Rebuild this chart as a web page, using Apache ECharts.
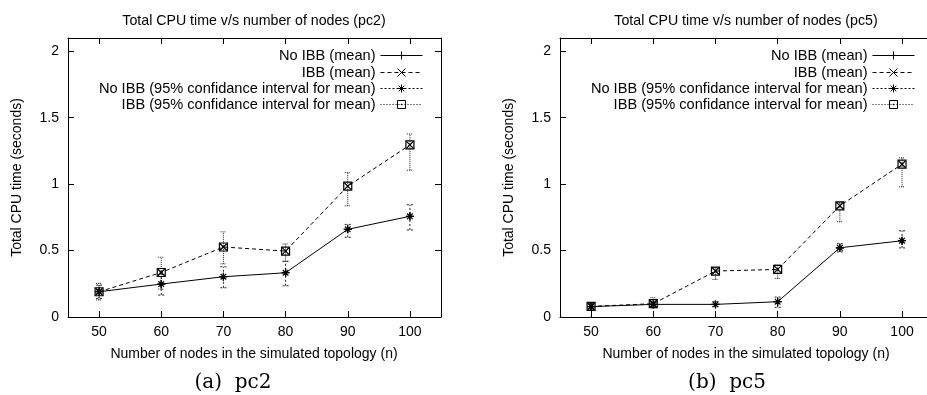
<!DOCTYPE html>
<html>
<head>
<meta charset="utf-8">
<script src="https://cdn.jsdelivr.net/npm/echarts@6/dist/echarts.min.js"></script>
<style>
  html, body { margin: 0; padding: 0; background: #fff; overflow: hidden; }
  #chart { width: 927px; height: 395px; }
</style>
</head>
<body>
<div id="chart"></div>
<script>
// number of nodes (x)
const nodes = [50, 60, 70, 80, 90, 100];
const xTicks = [50, 60, 70, 80, 90, 100];
const yTicks = [0, 0.5, 1, 1.5, 2];

// pc2
const pc2NoIbbMean = [0.19, 0.248, 0.303, 0.333, 0.66, 0.758];
const pc2IbbMean = [0.19, 0.335, 0.527, 0.496, 0.985, 1.295];
const pc2NoIbbLow = [0.14, 0.165, 0.22, 0.235, 0.6, 0.655];
const pc2NoIbbHigh = [0.24, 0.32, 0.378, 0.42, 0.697, 0.845];
const pc2IbbLow = [0.128, 0.21, 0.4, 0.418, 0.837, 1.105];
const pc2IbbHigh = [0.253, 0.45, 0.641, 0.55, 1.087, 1.378];

// pc5
const pc5NoIbbMean = [0.078, 0.095, 0.095, 0.115, 0.521, 0.574];
const pc5IbbMean = [0.08, 0.1, 0.346, 0.358, 0.837, 1.15];
const pc5NoIbbLow = [0.062, 0.078, 0.078, 0.073, 0.49, 0.52];
const pc5NoIbbHigh = [0.1, 0.118, 0.115, 0.15, 0.552, 0.649];
const pc5IbbLow = [0.062, 0.07, 0.283, 0.29, 0.717, 0.98];
const pc5IbbHigh = [0.1, 0.145, 0.37, 0.392, 0.86, 1.198];

const seriesNames = [
  'No IBB (mean)',
  'IBB (mean)',
  'No IBB (95% confidance interval for mean)',
  'IBB (95% confidance interval for mean)',
];

const FONT = '"Liberation Sans", Arial, sans-serif';
const SYM_PLUS = 'path://M0,5L10,5M5,0L5,10';
const SYM_CROSS = 'path://M0,0L10,10M10,0L0,10';
const SYM_STAR = 'path://M0,5L10,5M5,0L5,10M1.5,1.5L8.5,8.5M8.5,1.5L1.5,8.5';
const SYM_BOX = 'path://M0,0L10,0L10,10L0,10ZM4.6,4.6L5.4,4.6L5.4,5.4L4.6,5.4Z';

// the second plot runs past the right edge of the picture, as in the original
// (same x scale, just a longer axis that gets cut off)
const panels = [
  {
    left: 68, width: 373, xMax: 105, rightFrame: true, legendRight: 504, titleX: 254, captionX: 233,
    title: 'Total CPU time v/s number of nodes (pc2)', caption: '(a)  pc2',
    noIbbMean: pc2NoIbbMean, ibbMean: pc2IbbMean,
    noIbbLow: pc2NoIbbLow, noIbbHigh: pc2NoIbbHigh, ibbLow: pc2IbbLow, ibbHigh: pc2IbbHigh,
  },
  {
    left: 560, width: 398, xMax: 109, rightFrame: false, legendRight: 12, titleX: 746, captionX: 727,
    title: 'Total CPU time v/s number of nodes (pc5)', caption: '(b)  pc5',
    noIbbMean: pc5NoIbbMean, ibbMean: pc5IbbMean,
    noIbbLow: pc5NoIbbLow, noIbbHigh: pc5NoIbbHigh, ibbLow: pc5IbbLow, ibbHigh: pc5IbbHigh,
  },
];

const points = ys => nodes.map((n, i) => [n, ys[i]]);
const bars = (lo, hi) => nodes.map((n, i) => [n, lo[i], hi[i]]);

const renderErrorBar = dash => (params, api) => {
  const x = api.value(0);
  const lo = api.coord([x, api.value(1)]);
  const hi = api.coord([x, api.value(2)]);
  const style = { stroke: '#222', lineWidth: 1, lineDash: dash, fill: null };
  const line = (x1, y1, x2, y2) => ({ type: 'line', shape: { x1, y1, x2, y2 }, style });
  return {
    type: 'group',
    children: [
      line(lo[0], lo[1], hi[0], hi[1]),
      line(lo[0] - 3, lo[1], lo[0] + 3, lo[1]),
      line(hi[0] - 3, hi[1], hi[0] + 3, hi[1]),
    ],
  };
};

const axisBase = ticks => ({
  axisLine: { show: true, onZero: false, lineStyle: { color: '#000', width: 1 } },
  axisTick: { show: true, inside: true, length: 6, lineStyle: { color: '#000' }, customValues: ticks },
  splitLine: { show: false },
});

const textStyle = { color: '#000', fontSize: 14, fontFamily: FONT };

const grid = [];
const xAxis = [];
const yAxis = [];
const series = [];
const legend = [];
const graphic = [];

panels.forEach((p, i) => {
  grid.push({
    left: p.left, width: p.width, top: 38, height: 279,
    outerBoundsMode: 'none', containLabel: false, show: false,
  });

  const xIndex = xAxis.length;
  xAxis.push({
    type: 'value', gridIndex: i, min: 45, max: p.xMax, position: 'bottom',
    ...axisBase(xTicks),
    axisLabel: { ...textStyle, margin: 8, customValues: xTicks },
    name: 'Number of nodes in the simulated topology (n)',
    nameLocation: 'start', nameGap: 0, nameTextStyle: textStyle,
  });
  xAxis.push({
    type: 'value', gridIndex: i, min: 45, max: p.xMax, position: 'top',
    ...axisBase(xTicks), axisLabel: { show: false },
  });
  const yIndex = yAxis.length;
  yAxis.push({
    type: 'value', gridIndex: i, min: 0, max: 2.1, position: 'left',
    ...axisBase(yTicks),
    axisLabel: { ...textStyle, margin: 9, customValues: yTicks },
    name: 'Total CPU time (seconds)',
    nameLocation: 'middle', nameGap: 44, nameTextStyle: textStyle,
  });
  if (p.rightFrame) {
    yAxis.push({
      type: 'value', gridIndex: i, min: 0, max: 2.1, position: 'right',
      ...axisBase(yTicks), axisLabel: { show: false },
    });
  }
  // axis name drawn centred on the visible 45..105 span
  xAxis[xIndex].name = '';
  graphic.push({
    type: 'text', x: p.titleX, y: 354,
    style: {
      text: 'Number of nodes in the simulated topology (n)', fill: '#000',
      font: '14px ' + FONT, textAlign: 'center', textVerticalAlign: 'middle',
    },
  });

  const axes = { xAxisIndex: xIndex, yAxisIndex: yIndex };

  series.push({
    type: 'custom', name: 'noIbbBars' + i, ...axes, z: 1, silent: true,
    renderItem: renderErrorBar([2, 2]), encode: { x: 0, y: [1, 2] },
    data: bars(p.noIbbLow, p.noIbbHigh),
  });
  series.push({
    type: 'custom', name: 'ibbBars' + i, ...axes, z: 1, silent: true,
    renderItem: renderErrorBar([1, 1]), encode: { x: 0, y: [1, 2] },
    data: bars(p.ibbLow, p.ibbHigh),
  });

  const markStyle = { color: '#000', borderColor: '#000', borderWidth: 1.2 };
  series.push({
    type: 'line', name: seriesNames[0], ...axes, z: 3,
    symbol: SYM_PLUS, symbolSize: 8, showAllSymbol: true,
    lineStyle: { color: '#000', width: 1 }, itemStyle: markStyle,
    data: points(p.noIbbMean),
  });
  series.push({
    type: 'line', name: seriesNames[1], ...axes, z: 3,
    symbol: SYM_CROSS, symbolSize: 7, showAllSymbol: true,
    lineStyle: { color: '#000', width: 1, type: [4, 3] }, itemStyle: markStyle,
    data: points(p.ibbMean),
  });
  series.push({
    type: 'line', name: seriesNames[2], ...axes, z: 4,
    symbol: SYM_STAR, symbolSize: 8, showAllSymbol: true,
    lineStyle: { color: '#000', width: 0, opacity: 0 }, itemStyle: markStyle,
    data: points(p.noIbbMean),
  });
  series.push({
    type: 'line', name: seriesNames[3], ...axes, z: 4,
    symbol: SYM_BOX, symbolSize: 8, showAllSymbol: true,
    lineStyle: { color: '#000', width: 0, opacity: 0 },
    itemStyle: { color: 'rgba(0,0,0,0)', borderColor: '#000', borderWidth: 1.2 },
    data: points(p.ibbMean),
  });

  const rowCenters = [53, 70, 86, 102];
  const legendLines = [
    { color: '#000', width: 1 },
    { color: '#000', width: 1, type: [4, 3] },
    { color: '#000', width: 1, opacity: 1, type: [2, 2] },
    { color: '#000', width: 1, opacity: 1, type: [1, 2] },
  ];
  seriesNames.forEach((name, r) => {
    legend.push({
      data: [name], orient: 'horizontal', align: 'right',
      right: p.legendRight, top: rowCenters[r] - 5, padding: 0,
      itemWidth: 42, itemHeight: 10, itemGap: 0, selectedMode: false,
      textStyle: { ...textStyle, fontSize: 14.6 },
      itemStyle: { borderWidth: 1 }, lineStyle: legendLines[r],
    });
  });

  graphic.push({
    type: 'text', x: p.titleX, y: 21,
    style: { text: p.title, fill: '#000', font: '14.2px ' + FONT, textAlign: 'center', textVerticalAlign: 'middle' },
  });
  graphic.push({
    type: 'text', x: p.captionX, y: 383,
    style: { text: p.caption, fill: '#000', font: '20px "DejaVu Serif", serif', textAlign: 'center', textVerticalAlign: 'middle' },
  });
});

const chart = echarts.init(document.getElementById('chart'));
chart.setOption({
  animation: false,
  backgroundColor: '#fff',
  grid, xAxis, yAxis, series, legend, graphic,
});
</script>
</body>
</html>
